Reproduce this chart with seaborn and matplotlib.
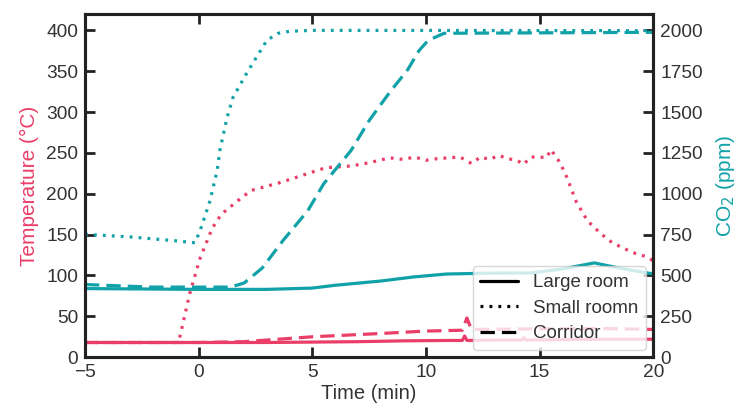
import matplotlib
matplotlib.use("Agg")
import matplotlib.pyplot as plt
import seaborn as sns
from matplotlib.lines import Line2D

# Temperature (°C), left axis
t_large_x = [-5, 0, 3, 5, 7, 9, 11, 11.6, 11.7, 11.8, 13, 14.2, 14.3, 14.4, 16, 18, 20]
t_large_y = [18, 18, 18, 18.5, 19, 20, 20.5, 20.5, 26, 20.5, 21, 21, 24, 21, 21.5, 22, 22]

t_small_x = [-5, -2, -0.9, -0.8, -0.4, 0.06, 0.6, 1.0, 1.7, 2.3, 3.5, 4.5, 5.6, 6.7, 7.5, 8.4,
             9.0, 9.5, 10.0, 10.5, 11.0, 11.5, 12.0, 12.4, 12.8, 13.2, 13.6, 14.0, 14.3, 14.6,
             15.0, 15.3, 15.5, 15.9, 16.2, 16.6, 17.1, 17.7, 18.2, 19.1, 19.7, 20]
t_small_y = [18, 18, 18, 28, 77, 121, 158, 175, 191, 204, 213, 222, 232, 234, 238, 244,
             242, 245, 241, 243, 244, 245, 237, 245, 242, 247, 243, 241, 236, 245,
             245, 244, 254, 238, 220, 191, 167, 151, 140, 128, 123, 118]

t_corr_x = [-5, 0, 2, 5, 8, 10, 11.6, 11.8, 12, 14, 16, 18, 20]
t_corr_y = [18, 18, 19, 25, 29, 32, 33, 48, 34, 34.5, 35, 35, 34]

# CO2 (ppm), right axis
c_large_x = [-5, 0, 3, 5, 6, 8, 9.45, 10.9, 13.1, 14.6, 16.0, 17.4, 18.5, 20]
c_large_y = [420, 415, 415, 423, 440, 466, 491, 509, 515, 515, 540, 577, 546, 509]

c_small_x = [-5, -3, -1, -0.16, 0.06, 0.5, 0.81, 0.94, 1.25, 1.51, 2.13, 3.0, 3.5, 4.0, 5, 20]
c_small_y = [752, 736, 712, 700, 773, 957, 1141, 1270, 1466, 1589, 1742, 1939, 1982, 1994, 2000, 1998]

c_corr_x = [-5, -2.1, 1.4, 2.0, 2.8, 3.7, 4.8, 5.5, 6.7, 7.5, 8.4, 9.2, 9.7, 10.1, 10.8, 20]
c_corr_y = [445, 429, 429, 454, 546, 712, 896, 1061, 1264, 1448, 1620, 1760, 1877, 1939, 1982, 1988]

labels = ["Large room", "Small roomn", "Corridor"]

pink = "#ea3e68"
teal = "#10a2a8"

sns.set_style("ticks")
plt.rcParams["font.family"] = ["Liberation Sans", "DejaVu Sans"]

fig, ax = plt.subplots(figsize=(7.39, 4.12), dpi=100)
fig.subplots_adjust(left=0.115, right=0.884, top=0.966, bottom=0.133)
ax2 = ax.twinx()

lw = 2.3
dot = (0, (0.9, 1.9))
dash = (0, (4.5, 2.2))
sns.lineplot(x=t_large_x, y=t_large_y, ax=ax, color=pink, lw=lw, ls="-")
sns.lineplot(x=t_small_x, y=t_small_y, ax=ax, color=pink, lw=lw, ls=dot)
sns.lineplot(x=t_corr_x, y=t_corr_y, ax=ax, color=pink, lw=lw, ls=dash)

sns.lineplot(x=c_large_x, y=c_large_y, ax=ax2, color=teal, lw=lw, ls="-")
sns.lineplot(x=c_small_x, y=c_small_y, ax=ax2, color=teal, lw=lw, ls=dot)
sns.lineplot(x=c_corr_x, y=c_corr_y, ax=ax2, color=teal, lw=lw, ls=dash)

ax.set_xlim(-5, 20)
ax.set_ylim(0, 420)
ax2.set_ylim(0, 2100)
ax.set_xticks([-5, 0, 5, 10, 15, 20])
ax.set_xticklabels(["\u22125", "0", "5", "10", "15", "20"])
ax.set_yticks(range(0, 401, 50))
ax2.set_yticks(range(0, 2001, 250))

ax.set_xlabel("Time (min)", fontsize=14.5, color="#333333", labelpad=2)
ax.set_ylabel("Temperature (\u00b0C)", fontsize=15, color=pink, labelpad=5)
ax2.set_ylabel("CO$_2$ (ppm)", fontsize=15, color=teal, labelpad=8)

for a in (ax, ax2):
    for s in a.spines.values():
        s.set_visible(True)
        s.set_linewidth(2.2)
        s.set_color("#222222")
    a.tick_params(direction="in", length=7.5, width=2, labelsize=13.8,
                  labelcolor="#333333", color="#222222")
ax.tick_params(axis="x", top=True, pad=5)
ax.tick_params(axis="y", pad=5)
ax2.tick_params(axis="y", pad=5)

handles = [Line2D([], [], color="black", lw=2.3, ls="-"),
           Line2D([], [], color="black", lw=2.3, ls=dot),
           Line2D([], [], color="black", lw=2.3, ls=dash)]
leg = ax2.legend(handles, labels, loc="lower right", fontsize=13.5, frameon=True,
                 framealpha=0.8, edgecolor="#cccccc", handlelength=2.0,
                 borderaxespad=0.4, labelspacing=0.45, handletextpad=0.8)
for t in leg.get_texts():
    t.set_color("#333333")

fig.savefig("out.png", dpi=100)
